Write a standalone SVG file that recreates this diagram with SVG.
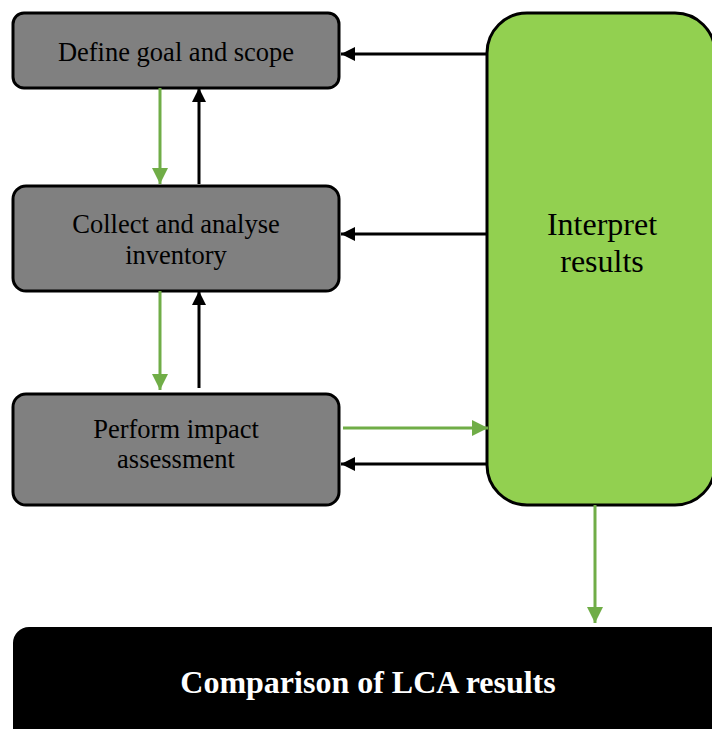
<svg xmlns="http://www.w3.org/2000/svg" width="712" height="729" viewBox="0 0 712 729">
<style>
.box{fill:#808080;stroke:#000;stroke-width:3}
.lbl{font-family:"Liberation Serif","Times New Roman",serif;font-size:26.5px;fill:#000;text-anchor:middle}
.big{font-size:32px}
.blk{stroke:#000;stroke-width:3;fill:none}
.grn{stroke:#70AD47;stroke-width:3;fill:none}
</style>
<defs>
<marker id="ab" markerUnits="userSpaceOnUse" markerWidth="16" markerHeight="16" refX="14" refY="7" orient="auto">
<path d="M0,0 L14,7 L0,14 Z" fill="#000"/>
</marker>
<marker id="ag" markerUnits="userSpaceOnUse" markerWidth="18" markerHeight="18" refX="16" refY="8" orient="auto">
<path d="M0,0 L16,8 L0,16 Z" fill="#70AD47"/>
</marker>
</defs>
<rect width="712" height="729" fill="#fff"/>
<g id="define">
<rect class="box" x="13" y="13" width="326" height="75" rx="11"/>
<text class="lbl" x="176" y="61">Define goal and scope</text>
</g>
<g id="collect">
<rect class="box" x="13" y="186" width="326" height="105" rx="13"/>
<text class="lbl" x="176" y="233">Collect and analyse</text>
<text class="lbl" x="176" y="264">inventory</text>
</g>
<g id="perform">
<rect class="box" x="13" y="394" width="326" height="111" rx="13"/>
<text class="lbl" x="176" y="438">Perform impact</text>
<text class="lbl" x="176" y="468">assessment</text>
</g>
<g id="interpret">
<rect x="487" y="13" width="228" height="492" rx="40" fill="#92D050" stroke="#000" stroke-width="3"/>
<text class="lbl big" x="602" y="235">Interpret</text>
<text class="lbl big" x="602" y="272">results</text>
</g>
<g id="comparison">
<rect x="13" y="627" width="720" height="120" rx="16" fill="#000"/>
<text x="368" y="693" font-family="'Liberation Serif','Times New Roman',serif" font-size="32" font-weight="bold" fill="#fff" text-anchor="middle">Comparison of LCA results</text>
</g>
<g id="connectors">
<line class="grn" x1="160" y1="88" x2="160" y2="184" marker-end="url(#ag)"/>
<line class="blk" x1="199" y1="184" x2="199" y2="88" marker-end="url(#ab)"/>
<line class="grn" x1="160" y1="291" x2="160" y2="390" marker-end="url(#ag)"/>
<line class="blk" x1="199" y1="388" x2="199" y2="291" marker-end="url(#ab)"/>
<line class="blk" x1="487" y1="54" x2="341" y2="54" marker-end="url(#ab)"/>
<line class="blk" x1="487" y1="234" x2="341" y2="234" marker-end="url(#ab)"/>
<line class="grn" x1="343" y1="428" x2="488" y2="428" marker-end="url(#ag)"/>
<line class="blk" x1="487" y1="464" x2="341" y2="464" marker-end="url(#ab)"/>
<line class="grn" x1="595" y1="505" x2="595" y2="623" marker-end="url(#ag)"/>
</g>
</svg>
